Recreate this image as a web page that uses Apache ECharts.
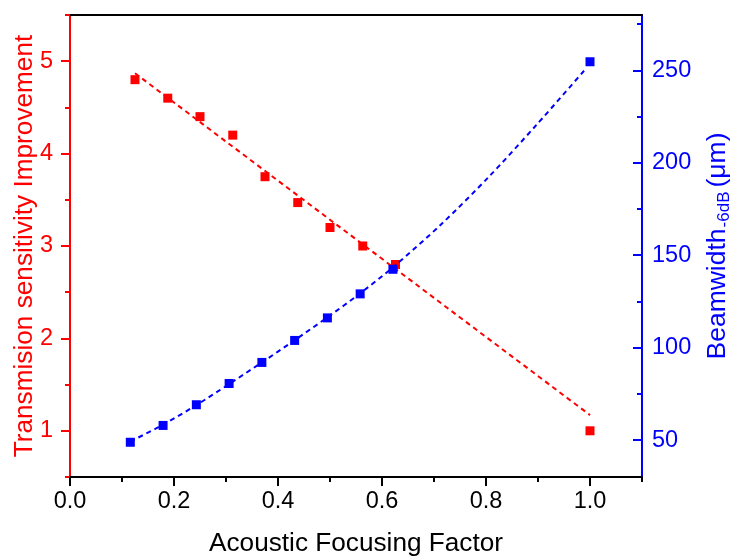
<!DOCTYPE html>
<html>
<head>
<meta charset="utf-8">
<script src="https://cdn.jsdelivr.net/npm/echarts@6/dist/echarts.min.js"></script>
<style>html,body{margin:0;padding:0;background:#fff;}#c{width:732px;height:556px;}</style>
</head>
<body>
<div id="c"></div>
<script>
// ---- data ----
const redX = [0.125, 0.188, 0.25, 0.313, 0.375, 0.438, 0.5, 0.563, 0.626, 1.0];
const redY = [4.80, 4.60, 4.40, 4.20, 3.75, 3.47, 3.20, 3.00, 2.80, 1.00];
const redFitX = [0.125, 1.0];
const redFitY = [4.87, 1.17];
const blueX = [0.116, 0.179, 0.243, 0.306, 0.369, 0.432, 0.495, 0.558, 0.621, 1.0];
const blueY = [48.8, 57.9, 69.1, 80.6, 92.0, 103.9, 116.1, 129.1, 142.4, 254.7];
const blueFitX = [0.116, 0.179, 0.243, 0.306, 0.369, 0.432, 0.495, 0.558, 0.621, 0.713, 0.805, 0.897, 0.99];
const blueFitY = [49.2, 58.3, 68.9, 80.3, 92.0, 104.0, 116.4, 129.4, 143.5, 166.5, 192.3, 220.5, 250.3];
const xTickLabels = [0, 0.2, 0.4, 0.6, 0.8, 1.0];
const xMinorTicks = [0.1, 0.3, 0.5, 0.7, 0.9, 1.1];
const leftTickLabels = [1, 2, 3, 4, 5];
const leftMinorTicks = [0.5, 1.5, 2.5, 3.5, 4.5, 5.5];
const rightTickLabels = [50, 100, 150, 200, 250];
const rightMinorTicks = [75, 125, 175, 225, 275];

const FONT = 'Liberation Sans, Arial, sans-serif';
const RED = '#ff0000', BLUE = '#0000ff';
const pairs = (xs, ys) => xs.map((x, i) => [x, ys[i]]);
const GRID = {left: 70, right: 90, top: 15, bottom: 79, outerBoundsMode: 'none', containLabel: false};

const chart = echarts.init(document.getElementById('c'), null, {renderer: 'canvas'});
chart.setOption({
  animation: false,
  backgroundColor: '#ffffff',
  textStyle: {fontFamily: FONT},
  grid: [Object.assign({}, GRID), Object.assign({}, GRID)],
  xAxis: [
    {
      gridIndex: 0, type: 'value', min: 0, max: 1.1, position: 'bottom',
      axisLine: {show: true, onZero: false, lineStyle: {color: '#000', width: 2}},
      axisTick: {show: true, length: 9, customValues: xTickLabels, lineStyle: {color: '#000', width: 2}},
      axisLabel: {customValues: xTickLabels, color: '#000', fontSize: 23.5, fontFamily: FONT, margin: 13,
        formatter: v => Number(v).toFixed(1)},
      splitLine: {show: false},
      name: 'Acoustic Focusing Factor', nameLocation: 'middle', nameGap: 54, nameMoveOverlap: false,
      nameTextStyle: {color: '#000', fontSize: 26.2, fontFamily: FONT}
    },
    {
      gridIndex: 0, type: 'value', min: 0, max: 1.1, position: 'top',
      axisLine: {show: true, onZero: false, lineStyle: {color: '#000', width: 2}},
      axisTick: {show: false}, axisLabel: {show: false}, splitLine: {show: false}
    },
    {
      gridIndex: 1, type: 'value', min: 0, max: 1.1, position: 'bottom',
      axisLine: {show: false},
      axisTick: {show: true, length: 5, customValues: xMinorTicks, lineStyle: {color: '#000', width: 2}},
      axisLabel: {show: false}, splitLine: {show: false}
    }
  ],
  yAxis: [
    {
      gridIndex: 0, type: 'value', min: 0.5, max: 5.5, position: 'left',
      axisLine: {show: true, onZero: false, lineStyle: {color: RED, width: 2}},
      axisTick: {show: true, length: 9, customValues: leftTickLabels, lineStyle: {color: RED, width: 2}},
      axisLabel: {customValues: leftTickLabels, color: RED, fontSize: 23.5, fontFamily: FONT, margin: 17},
      splitLine: {show: false},
      name: 'Transmision sensitivity Improvement', nameLocation: 'middle', nameGap: 32, nameMoveOverlap: false,
      nameTextStyle: {color: RED, fontSize: 26.2, fontFamily: FONT}
    },
    {
      gridIndex: 0, type: 'value', min: 30, max: 280, position: 'right',
      axisLine: {show: true, onZero: false, lineStyle: {color: BLUE, width: 2}},
      axisTick: {show: true, inside: true, length: 9, customValues: rightTickLabels, lineStyle: {color: BLUE, width: 2}},
      axisLabel: {customValues: rightTickLabels, color: BLUE, fontSize: 23.5, fontFamily: FONT, margin: 10},
      splitLine: {show: false},
      name: '{a|Beamwidth}{b|-6dB}{a|(μm)}', nameLocation: 'middle', nameGap: 60, nameMoveOverlap: false,
      nameTextStyle: {
        color: BLUE, fontSize: 26.5, fontFamily: FONT,
        rich: {
          a: {color: BLUE, fontSize: 26.5, fontFamily: FONT, lineHeight: 32},
          b: {color: BLUE, fontSize: 17, fontFamily: FONT, lineHeight: 32, padding: [13, 4, 0, 1]}
        }
      }
    },
    {
      gridIndex: 1, type: 'value', min: 0.5, max: 5.5, position: 'left',
      axisLine: {show: false},
      axisTick: {show: true, length: 5, customValues: leftMinorTicks, lineStyle: {color: RED, width: 2}},
      axisLabel: {show: false}, splitLine: {show: false}
    },
    {
      gridIndex: 1, type: 'value', min: 30, max: 280, position: 'right',
      axisLine: {show: false},
      axisTick: {show: true, inside: true, length: 5, customValues: rightMinorTicks, lineStyle: {color: BLUE, width: 2}},
      axisLabel: {show: false}, splitLine: {show: false}
    }
  ],
  series: [
    {
      type: 'line', xAxisIndex: 0, yAxisIndex: 0, data: pairs(redFitX, redFitY),
      symbol: 'none', lineStyle: {color: RED, width: 2, type: [5, 4]}, z: 2
    },
    {
      type: 'scatter', xAxisIndex: 0, yAxisIndex: 0, data: pairs(redX, redY),
      symbol: 'rect', symbolSize: 9, itemStyle: {color: RED, opacity: 1}, z: 3
    },
    {
      type: 'line', xAxisIndex: 0, yAxisIndex: 1, data: pairs(blueFitX, blueFitY), smooth: 0.3,
      symbol: 'none', lineStyle: {color: BLUE, width: 2, type: [5, 4]}, z: 4
    },
    {
      type: 'scatter', xAxisIndex: 0, yAxisIndex: 1, data: pairs(blueX, blueY),
      symbol: 'rect', symbolSize: 9, itemStyle: {color: BLUE, opacity: 1}, z: 5
    }
  ]
});
</script>
</body>
</html>
